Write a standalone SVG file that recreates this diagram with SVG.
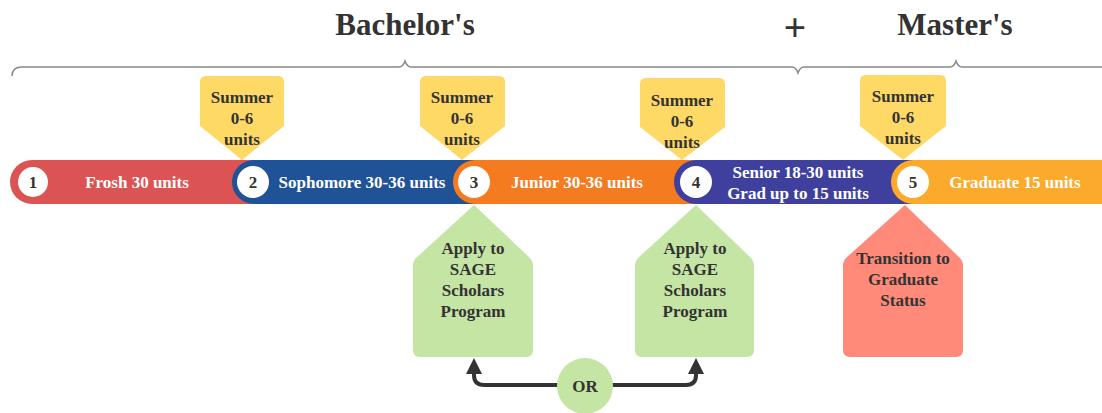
<svg xmlns="http://www.w3.org/2000/svg" width="1102" height="413" viewBox="0 0 1102 413">
<defs>
<style>
.t{font-family:"Liberation Serif","DejaVu Serif",serif;font-weight:bold;text-anchor:middle}
.title{font-size:31px;fill:#333}
.plus{font-size:40px;fill:#333}
.lbl{font-size:17px;fill:#333}
.bar{font-size:17px;fill:#fff}
.num{font-size:17px;fill:#333}
.brace{fill:none;stroke:#888;stroke-width:1.5}
.callout{fill:#FFD966}
.green{fill:#C5E5A5}
.circ{fill:#fff}
.conn{fill:none;stroke:#333;stroke-width:4;stroke-linejoin:round}
</style>
<marker id="arr" viewBox="0 0 10 10" refX="0" refY="5" markerWidth="16" markerHeight="16" markerUnits="userSpaceOnUse" orient="auto">
<path d="M0,0 L10,5 L0,10 z" fill="#333"/>
</marker>
</defs>
<rect width="1102" height="413" fill="#fff"/>

<g id="titles">
<text class="t title" x="405" y="35">Bachelor's</text>
<text class="t plus" x="795" y="41">+</text>
<text class="t title" x="955" y="35">Master's</text>
</g>

<g id="braces">
<path class="brace" d="M12,76 Q12,67 22,67 H399 Q403,67 405,61 Q407,67 411,67 H792 Q796,67 798,73 Q800,67 804,67 H950 Q954,67 956,61 Q958,67 962,67 H1102"/>
</g>

<g id="summer1">
<path class="callout" d="M206,76 H278 Q284,76 284,82 V126 L242,160 L200,126 V82 Q200,76 206,76 Z"/>
<text class="t lbl" x="242" y="103">Summer</text>
<text class="t lbl" x="242" y="124">0-6</text>
<text class="t lbl" x="242" y="145">units</text>
</g>
<g id="summer2">
<path class="callout" d="M426,76 H499 Q505,76 505,82 V126 L462,160 L420,126 V82 Q420,76 426,76 Z"/>
<text class="t lbl" x="462" y="103">Summer</text>
<text class="t lbl" x="462" y="124">0-6</text>
<text class="t lbl" x="462" y="145">units</text>
</g>
<g id="summer3">
<path class="callout" d="M646,78 H719 Q725,78 725,84 V127 L682,160 L640,127 V84 Q640,78 646,78 Z"/>
<text class="t lbl" x="682" y="106">Summer</text>
<text class="t lbl" x="682" y="127">0-6</text>
<text class="t lbl" x="682" y="148">units</text>
</g>
<g id="summer4">
<path class="callout" d="M866,75 H940 Q946,75 946,81 V126 L903,160 L860,126 V81 Q860,75 866,75 Z"/>
<text class="t lbl" x="903" y="102">Summer</text>
<text class="t lbl" x="903" y="123">0-6</text>
<text class="t lbl" x="903" y="144">units</text>
</g>

<g id="seg1">
<path d="M32,160 H254 V204 H32 A22,22 0 0 1 32,160 Z" fill="#DC5354"/>
<circle class="circ" cx="33" cy="182" r="15"/>
<text class="t num" x="33" y="188">1</text>
<text class="t bar" x="137" y="188">Frosh 30 units</text>
</g>
<g id="seg2">
<path d="M254,160 H475 V204 H254 A22,22 0 0 1 254,160 Z" fill="#1F5296"/>
<circle class="circ" cx="253" cy="182" r="16"/>
<text class="t num" x="253" y="188">2</text>
<text class="t bar" x="362" y="188">Sophomore 30-36 units</text>
</g>
<g id="seg3">
<path d="M475,160 H696 V204 H475 A22,22 0 0 1 475,160 Z" fill="#F47B20"/>
<circle class="circ" cx="474" cy="182" r="16"/>
<text class="t num" x="474" y="188">3</text>
<text class="t bar" x="577" y="188">Junior 30-36 units</text>
</g>
<g id="seg4">
<path d="M696,160 H913 V204 H696 A22,22 0 0 1 696,160 Z" fill="#3F3F9E"/>
<circle class="circ" cx="696" cy="182" r="16"/>
<text class="t num" x="696" y="188">4</text>
<text class="t bar" x="798" y="178">Senior 18-30 units</text>
<text class="t bar" x="798" y="199">Grad up to 15 units</text>
</g>
<g id="seg5">
<path d="M913,160 H1102 V204 H913 A22,22 0 0 1 913,160 Z" fill="#FBAA2C"/>
<circle class="circ" cx="913" cy="182" r="16"/>
<text class="t num" x="913" y="188">5</text>
<text class="t bar" x="1015" y="188">Graduate 15 units</text>
</g>

<g id="apply1">
<path class="green" d="M474,205 L530,258 Q533,261 533,266 V350 Q533,357 526,357 H420 Q413,357 413,350 V266 Q413,261 416,258 Z"/>
<text class="t lbl" x="473" y="254">Apply to</text>
<text class="t lbl" x="473" y="275">SAGE</text>
<text class="t lbl" x="473" y="296">Scholars</text>
<text class="t lbl" x="473" y="317">Program</text>
</g>
<g id="apply2">
<path class="green" d="M696,205 L751,258 Q754,261 754,266 V350 Q754,357 747,357 H642 Q635,357 635,350 V266 Q635,261 638,258 Z"/>
<text class="t lbl" x="695" y="254">Apply to</text>
<text class="t lbl" x="695" y="275">SAGE</text>
<text class="t lbl" x="695" y="296">Scholars</text>
<text class="t lbl" x="695" y="317">Program</text>
</g>
<g id="transition">
<path d="M905,205 L960,258 Q963,261 963,266 V350 Q963,357 956,357 H850 Q843,357 843,350 V266 Q843,261 846,258 Z" fill="#FF8A7A"/>
<text class="t lbl" x="903" y="264">Transition to</text>
<text class="t lbl" x="903" y="285">Graduate</text>
<text class="t lbl" x="903" y="306">Status</text>
</g>

<g id="connectors">
<path class="conn" d="M558,385 H484 Q474,385 474,375 V374" marker-end="url(#arr)"/>
<path class="conn" d="M612,385 H686 Q696,385 696,375 V374" marker-end="url(#arr)"/>
</g>

<g id="or">
<circle cx="585" cy="386" r="28" fill="#C5E5A5"/>
<text class="t lbl" x="585" y="392">OR</text>
</g>
</svg>
